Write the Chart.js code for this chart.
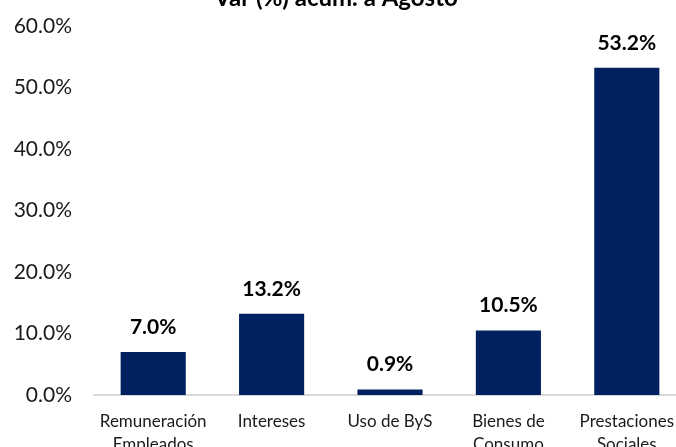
<!DOCTYPE html>
<html>
<head>
<meta charset="utf-8">
<script src="https://cdn.jsdelivr.net/npm/chart.js@4"></script>
<style>
  html, body { margin: 0; padding: 0; background: #fff; overflow: hidden; }
  #wrap { position: absolute; left: 0; top: 0; width: 700px; height: 447px; }
</style>
</head>
<body>
<div id="wrap"><canvas id="chart"></canvas></div>
<script>
const chartTitle = 'Var (%) acum. a Agosto';
const categories = [
    ['Remuneración', 'Empleados'],
    'Intereses',
    'Uso de ByS',
    ['Bienes de', 'Consumo'],
    ['Prestaciones', 'Sociales']
];
const values = [7.0, 13.2, 0.9, 10.5, 53.2];
const yTicks = [0, 10, 20, 30, 40, 50, 60];

const FONT = 'Lato, "Liberation Sans", sans-serif';

// title sits partly above the visible area, like the reference crop
const titlePlugin = {
    id: 'clippedTitle',
    afterDraw(chart) {
        const ctx = chart.ctx;
        ctx.save();
        ctx.font = 'bold 24px ' + FONT;
        ctx.fillStyle = '#000';
        ctx.textAlign = 'center';
        ctx.textBaseline = 'alphabetic';
        ctx.fillText(chartTitle, 336, 6);
        ctx.restore();
    }
};

const valueLabels = {
    id: 'valueLabels',
    afterDatasetsDraw(chart) {
        const ctx = chart.ctx;
        ctx.save();
        ctx.font = 'bold 21px ' + FONT;
        ctx.fillStyle = '#000';
        ctx.textAlign = 'center';
        ctx.textBaseline = 'middle';
        chart.getDatasetMeta(0).data.forEach((bar, i) => {
            ctx.fillText(values[i].toFixed(1) + '%', bar.x, bar.y - 25);
        });
        ctx.restore();
    }
};

new Chart(document.getElementById('chart'), {
    type: 'bar',
    data: {
        labels: categories,
        datasets: [{
            data: values,
            backgroundColor: '#002060',
            categoryPercentage: 1,
            barPercentage: 0.55
        }]
    },
    options: {
        responsive: true,
        maintainAspectRatio: false,
        animation: false,
        layout: { padding: { top: 26, right: 14, bottom: 0, left: 0 } },
        plugins: {
            legend: { display: false },
            tooltip: { enabled: false }
        },
        scales: {
            x: {
                grid: { display: false },
                border: { display: true, color: '#d9d9d9', width: 2 },
                ticks: {
                    color: '#1a1a1a',
                    font: { family: FONT, size: 17, lineHeight: 1.35 },
                    maxRotation: 0,
                    autoSkip: false,
                    padding: 7
                },
                afterFit(scale) {
                    scale.height = 52;
                    scale.paddingLeft = 0;
                    scale.paddingRight = 0;
                }
            },
            y: {
                min: 0,
                max: 60,
                afterBuildTicks(scale) { scale.ticks = yTicks.map(v => ({ value: v })); },
                grid: { display: false, drawTicks: false },
                border: { display: false },
                ticks: {
                    color: '#1a1a1a',
                    font: { family: FONT, size: 21 },
                    padding: 22,
                    callback: v => v.toFixed(1) + '%'
                },
                afterFit(scale) {
                    scale.width = 94;
                    scale.paddingTop = 0;
                    scale.paddingBottom = 0;
                }
            }
        }
    },
    plugins: [titlePlugin, valueLabels]
});
</script>
</body>
</html>
